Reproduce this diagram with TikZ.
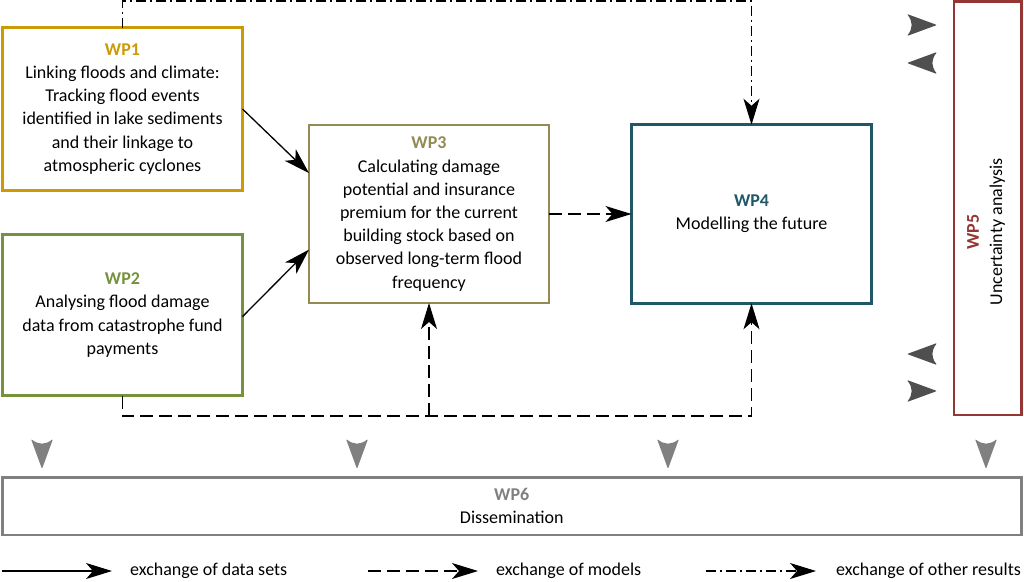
\documentclass[tikz,border=0pt]{standalone}
\usepackage{fontspec}
\setmainfont{Carlito}
\usetikzlibrary{arrows.meta,calc}
\definecolor{cwpa}{HTML}{CC9A06}
\definecolor{cwpb}{HTML}{76923C}
\definecolor{cwpc}{HTML}{948A54}
\definecolor{cwpd}{HTML}{215868}
\definecolor{cwpe}{HTML}{943634}
\definecolor{cwpf}{HTML}{808080}
\definecolor{cdark}{HTML}{4F4F4F}
\definecolor{clight}{HTML}{808080}
\begin{document}
\begin{tikzpicture}[x=1pt,y=-1pt,
  wpbox/.style={draw=#1, line width=2.8pt, align=center, inner sep=0pt, outer sep=0pt,
    font=\fontsize{18}{23.2}\selectfont},
  arr/.style={-{Stealth[length=26pt,width=16pt,inset=7pt]}, line width=1.3pt, black},
  dashline/.style={dash pattern=on 13pt off 6pt},
  dashdotline/.style={dash pattern=on 10pt off 4pt on 2pt off 4pt},
  legtext/.style={anchor=west, font=\fontsize{18}{20}\selectfont, inner sep=0pt},
  chevR/.pic={\fill[rounded corners=1pt] (0,0) -- (-30,-11) .. controls (-24,-3) and (-24,3) .. (-30,11) -- cycle;},
  chevL/.pic={\fill[rounded corners=1pt] (0,0) -- (30,-11) .. controls (24,-3) and (24,3) .. (30,11) -- cycle;},
  chevD/.pic={\fill[rounded corners=1pt] (0,0) -- (-11,-30) .. controls (-3,-24) and (3,-24) .. (11,-30) -- cycle;}
]
\useasboundingbox (0,0) rectangle (1024,581);

% boxes
\node[wpbox=cwpa, minimum width=240pt, minimum height=163pt] (wp1) at (122.5,109)
  {\textbf{\color{cwpa}WP1}\\Linking floods and climate:\\Tracking flood events\\identified in lake sediments\\and their linkage to\\atmospheric cyclones};
\node[wpbox=cwpb, minimum width=240pt, minimum height=161pt] (wp2) at (122.5,315)
  {\textbf{\color{cwpb}WP2}\\Analysing flood damage\\data from catastrophe fund\\payments};
\node[wpbox=cwpc, minimum width=240pt, minimum height=178pt] (wp3) at (429,214)
  {\textbf{\color{cwpc}WP3}\\Calculating damage\\potential and insurance\\premium for the current\\building stock based on\\observed long-term flood\\frequency};
\node[wpbox=cwpd, minimum width=240pt, minimum height=178.5pt] (wp4) at (751.5,214)
  {\textbf{\color{cwpd}WP4}\\Modelling the future};
\node[wpbox=cwpe, minimum width=67.5pt, minimum height=413.5pt] (wp5) at (987.75,208.25) {};
\node[align=center, rotate=90, inner sep=0pt, font=\fontsize{18}{23.2}\selectfont] (wp5t) at (986,232)
  {\textbf{\color{cwpe}WP5}\\Uncertainty analysis};
\node[wpbox=cwpf, minimum width=1019pt, minimum height=57.5pt] (wp6) at (511.75,506.25)
  {\textbf{\color{cwpf}WP6}\\Dissemination};

% data set arrows
\draw[arr] ($(wp1.north east)!0.5!(wp1.south east)$) -- ($(wp3.north west)!0.27!(wp3.south west)$);
\draw[arr] ($(wp2.north east)!0.51!(wp2.south east)$) -- ($(wp3.north west)!0.70!(wp3.south west)$);

% model arrows
\draw[arr, dashline] (wp3.east) -- (wp4.west);
\coordinate (bot) at (0,416);
\draw[arr, dashline] (wp2.south) -- (wp2.south |- bot) -| (wp4.south);
\draw[arr, dashline] (wp3.south |- bot) -- (wp3.south);

% other results
\coordinate (top) at (0,1);
\draw[arr, dashdotline, line width=1.2pt] (wp1.north) -- (wp1.north |- top) -| (wp4.north);

% chevrons
\pic[fill=cdark] at (937,25) {chevR};
\pic[fill=cdark] at (907,63) {chevL};
\pic[fill=cdark] at (907,354) {chevL};
\pic[fill=cdark] at (937,391) {chevR};
\pic[fill=clight] at (42,469) {chevD};
\pic[fill=clight] at (357,469) {chevD};
\pic[fill=clight] at (668,469) {chevD};
\pic[fill=clight] at (986,469) {chevD};

% legend
\coordinate (la1) at (2,571); \coordinate (la2) at (112,571);
\coordinate (lb1) at (368,571); \coordinate (lb2) at (478,571);
\coordinate (lc1) at (706,571); \coordinate (lc2) at (816,571);
\draw[arr] (la1) -- (la2);
\draw[arr, dashline] (lb1) -- (lb2);
\draw[arr, dashdotline, line width=1.2pt] (lc1) -- (lc2);
\node[legtext] (lta) at (130,571) {exchange of data sets};
\node[legtext] (ltb) at (496,571) {exchange of models};
\node[legtext] (ltc) at (836,571) {exchange of other results};
\end{tikzpicture}
\end{document}
